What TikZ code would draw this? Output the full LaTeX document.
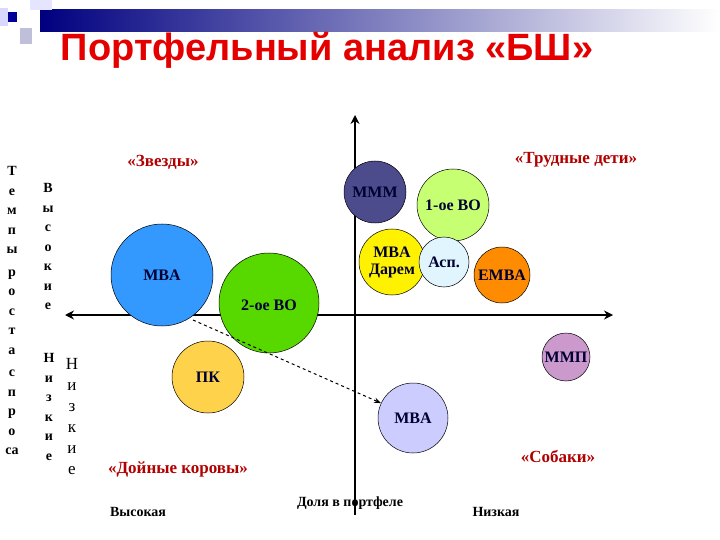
\documentclass[tikz,border=0pt]{standalone}
\usepackage{fontspec}
\setmainfont{Liberation Serif}
\newfontfamily\ttl{Liberation Sans}
\usetikzlibrary{arrows.meta}
\begin{document}
\begin{tikzpicture}[x=1pt,y=-1pt,
  bub/.style={circle,draw=black,line width=0.5pt,minimum size=#1,inner sep=0pt,font=\bfseries\fontsize{16}{17}\selectfont,text=black!80!blue},
  quad/.style={text=red!70!black,font=\bfseries\fontsize{17}{19}\selectfont},
  ax/.style={font=\bfseries\fontsize{14}{15}\selectfont},
  vt/.style={align=center,font=\bfseries\fontsize{14}{19.5}\selectfont,anchor=north}]
\useasboundingbox (0,0) rectangle (720,540);
\fill[white] (0,0) rectangle (720,540);
% decoration
\shade[left color=blue!50!black,right color=white] (40,10) rectangle (720,32);
\fill[blue!10] (30,0) rectangle (52,10);
\fill[blue!25!gray!40] (20,28) rectangle (32,44);
\fill[blue!15] (0,8) rectangle (8,26);
\fill[blue!60!black] (8,12) rectangle (17,22);
\node[font=\ttl\bfseries\fontsize{38}{42}\selectfont,text=red!90!black] (title) at (327,50) {Портфельный анализ «БШ»};
% axes
\coordinate (vb) at (355,515);
\coordinate (vt) at (355,115);
\coordinate (hl) at (65,315);
\coordinate (hr) at (613,315);
\draw[line width=2.5pt,-{Stealth[length=9pt,width=9pt]}] (vb) -- (vt);
\draw[line width=2.5pt,{Stealth[length=9pt,width=9pt]}-{Stealth[length=9pt,width=9pt]}] (hl) -- (hr);
% bubbles
\node[bub=102pt,fill=blue!50!cyan!80] (mba1) at (162,275) {MBA};
\node[bub=100pt,fill=green!60!yellow!85!black] (vo2) at (269,303) {};
\node[font=\bfseries\fontsize{16}{17}\selectfont,text=black!80!blue] (vo2t) at (269,305) {2-ое ВО};
\node[bub=72pt,fill=orange!50!yellow!70] (pk) at (208,377) {ПК};
\node[bub=62pt,fill=blue!30!gray!85!black] (mmm) at (375,192) {МММ};
\node[bub=72pt,fill=green!40!yellow!55] (vo1) at (453,205) {1-ое ВО};
\node[bub=66pt,fill=yellow,align=center,font=\bfseries\fontsize{16}{17}\selectfont] (dar) at (392,262) {MBA\\Дарем};
\node[bub=50pt,fill=cyan!12] (asp) at (444,262) {Асп.};
\node[bub=56pt,fill=orange!90!yellow] (emba) at (502,275) {EMBA};
\node[bub=48pt,fill=violet!40] (mmp) at (566,357) {ММП};
\node[bub=70pt,fill=blue!20] (mba2) at (413,418) {MBA};
\coordinate (ds) at (193,320);
\draw[dashed,line width=1pt,-{Stealth[length=7pt]}] (ds) -- (mba2.155);
% quadrant labels
\node[quad] (q1) at (163,162) {«Звезды»};
\node[quad] (q2) at (576,160) {«Трудные дети»};
\node[quad] (q3) at (178,469) {«Дойные коровы»};
\node[quad] (q4) at (558,456) {«Собаки»};
\node[ax] (hi) at (138,512) {Высокая};
\node[ax] (dp) at (350,503) {Доля в портфеле};
\node[ax] (lo) at (496,512) {Низкая};
% vertical texts
\node[vt] (tr) at (12,163) {Т\\е\\м\\п\\ы\\[3pt]р\\о\\с\\т\\а\\[3pt]с\\п\\р\\о\\са};
\node[vt] (vs) at (48,180) {В\\ы\\с\\о\\к\\и\\е};
\node[vt] (nz1) at (49,350) {Н\\и\\з\\к\\и\\е};
\node[vt,font=\fontsize{17}{21}\selectfont] (nz2) at (72,355) {Н\\и\\з\\к\\и\\е};
\end{tikzpicture}
\end{document}
